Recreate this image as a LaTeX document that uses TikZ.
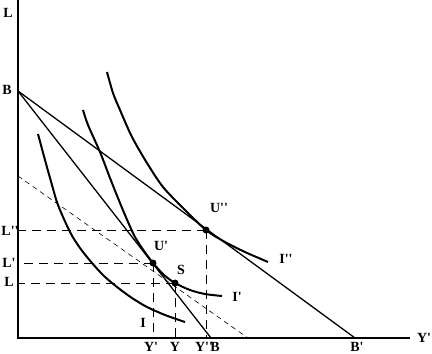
\documentclass[tikz,border=0pt]{standalone}
\usepackage{fontspec}
\setmainfont{Liberation Serif}
\usetikzlibrary{calc}
\newcommand{\pr}{\textquotesingle}

\begin{document}
\begin{tikzpicture}[x=1pt,y=-1pt,
  lab/.style={font=\fontsize{14}{14}\selectfont\bfseries,inner sep=0pt},
  axis/.style={line width=2pt},
  curve/.style={line width=2pt},
  budget/.style={line width=1.3pt},
  comp/.style={line width=0.6pt,dash pattern=on 5pt off 4pt},
  proj/.style={line width=0.9pt,dash pattern=on 9pt off 6pt},
  dot/.style={circle,fill,inner sep=0pt,minimum size=7pt}]
  \useasboundingbox (0,0) rectangle (432,354);
  % axes, pixel coordinates with y pointing down
  \coordinate (O) at (18,338);
  \coordinate (top) at (18,0);
  \coordinate (right) at (410,338);
  \draw[axis] (top) -- (O) -- (right);
  % budget lines
  \coordinate (B) at (18,91);
  \coordinate (Bp) at (355,338);
  \coordinate (Bs) at (211,338);
  \coordinate (C1) at (18,176);
  \coordinate (C2) at (248,338);
  \draw[budget] (B) -- (Bp);
  \draw[budget] (B) -- (Bs);
  \draw[comp] (C1) -- (C2);
  % indifference curves
  \draw[curve] plot[smooth] coordinates {(38,134) (45,160) (52,185) (58,205)
    (70,232) (80,248) (92,263) (104,276) (117,287) (132,298) (147,307)
    (165,315) (185,322)};
  \draw[curve] plot[smooth] coordinates {(83,110) (88,125) (100,152)
    (110,178) (120,203) (128,222) (135,237) (144,251) (153,263) (164,275)
    (175,283) (190,290) (205,294) (222,296)};
  \draw[curve] plot[smooth] coordinates {(107,72) (113,93) (120,110)
    (132,137) (147,163) (163,187) (184,209) (206,230) (225,242) (245,252)
    (268,262)};
  % equilibrium points and their projections
  \node[dot] (U2) at (206,230) {};
  \node[dot] (U1) at (153,263) {};
  \node[dot] (S) at (175,283) {};
  \foreach \p in {U2,U1,S}{
    \draw[proj] (\p.center) -- (\p.center -| O);
    \draw[proj] (\p.center) -- (\p.center |- O);
  }
  % labels
  \node[lab] (lL) at (8,13) {L};
  \node[lab] (lB) at (7,90) {B};
  \node[lab] (lL2) at (10,231) {L\pr\pr};
  \node[lab] (lL1) at (9,263) {L\pr};
  \node[lab] (lL0) at (9,282) {L};
  \node[lab] (lU2) at (219,208) {U\pr\pr};
  \node[lab] (lU1) at (161,246) {U\pr};
  \node[lab] (lS) at (181,270) {S};
  \node[lab] (lI2) at (286,259) {I\pr\pr};
  \node[lab] (lI1) at (237,297) {I\pr};
  \node[lab] (lI0) at (143,323) {I};
  \node[lab] (lY1) at (151,347) {Y\pr};
  \node[lab] (lY0) at (175,347) {Y};
  \node[lab] (lY2) at (204,347) {Y\pr\pr};
  \node[lab] (lBs) at (215,347) {B};
  \node[lab] (lBp) at (357,347) {B\pr};
  \node[lab] (lY) at (424,338) {Y\pr};
\end{tikzpicture}
\end{document}
